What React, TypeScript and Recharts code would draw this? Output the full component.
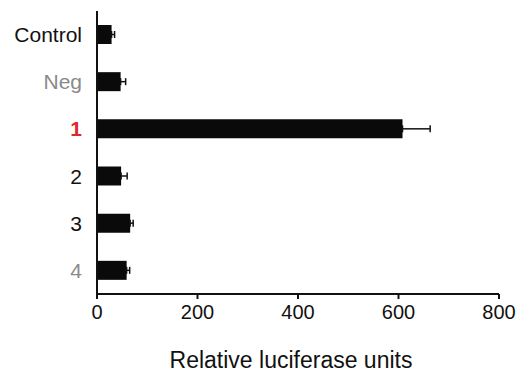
import React from 'react';
import { BarChart, Bar, XAxis, YAxis, ErrorBar } from 'recharts';

const categories = ['Control', 'Neg', '1', '2', '3', '4'];
const values = [29, 47, 608, 48, 66, 59];
const errors = [6, 10, 55, 12, 6, 6];
const labelColors = ['#111111', '#8a8a8a', '#e0282e', '#111111', '#111111', '#8a8a8a'];
const labelWeights = ['normal', 'normal', 'bold', 'normal', 'normal', 'normal'];
const xTicks = [0, 200, 400, 600, 800];

const data = categories.map((c, i) => ({
  name: c,
  value: values[i],
  err: [0, errors[i]],
  color: labelColors[i],
  weight: labelWeights[i],
}));

const FONT = '"Liberation Sans", Arial, Helvetica, sans-serif';

const YTick = (props: any) => {
  const { x, y, payload } = props;
  const idx = categories.indexOf(payload.value);
  return (
    <text
      x={x}
      y={y}
      dy="0.36em"
      textAnchor="end"
      fontFamily={FONT}
      fontSize={21}
      fill={labelColors[idx]}
      fontWeight={labelWeights[idx] as any}
    >
      {payload.value}
    </text>
  );
};

export default function App() {
  return (
    <div style={{ position: 'absolute', left: 0, top: 0, width: 517, height: 374, background: '#fff' }}>
      <BarChart
        width={517}
        height={374}
        data={data}
        layout="vertical"
        margin={{ top: 11, right: 18, bottom: 0, left: 0 }}
        barCategoryGap={0}
      >
        <XAxis
          type="number"
          domain={[0, 800]}
          ticks={xTicks}
          height={80}
          tickSize={5}
          tickMargin={6}
          axisLine={{ stroke: '#111', strokeWidth: 2 }}
          tickLine={{ stroke: '#111', strokeWidth: 2 }}
          tick={{ fill: '#111', fontSize: 20, fontFamily: FONT }}
          label={{
            value: 'Relative luciferase units',
            position: 'insideBottom',
            offset: 6,
            dx: -7,
            fill: '#111',
            fontSize: 23,
            fontFamily: FONT,
          }}
        />
        <YAxis
          type="category"
          dataKey="name"
          width={97}
          tickSize={0}
          tickMargin={15}
          tickLine={false}
          axisLine={{ stroke: '#111', strokeWidth: 2 }}
          tick={<YTick />}
          interval={0}
        />
        <Bar dataKey="value" fill="#0a0a0a" barSize={19} isAnimationActive={false}>
          <ErrorBar dataKey="err" direction="x" width={3.5} stroke="#111" strokeWidth={1.5} isAnimationActive={false} />
        </Bar>
      </BarChart>
    </div>
  );
}
